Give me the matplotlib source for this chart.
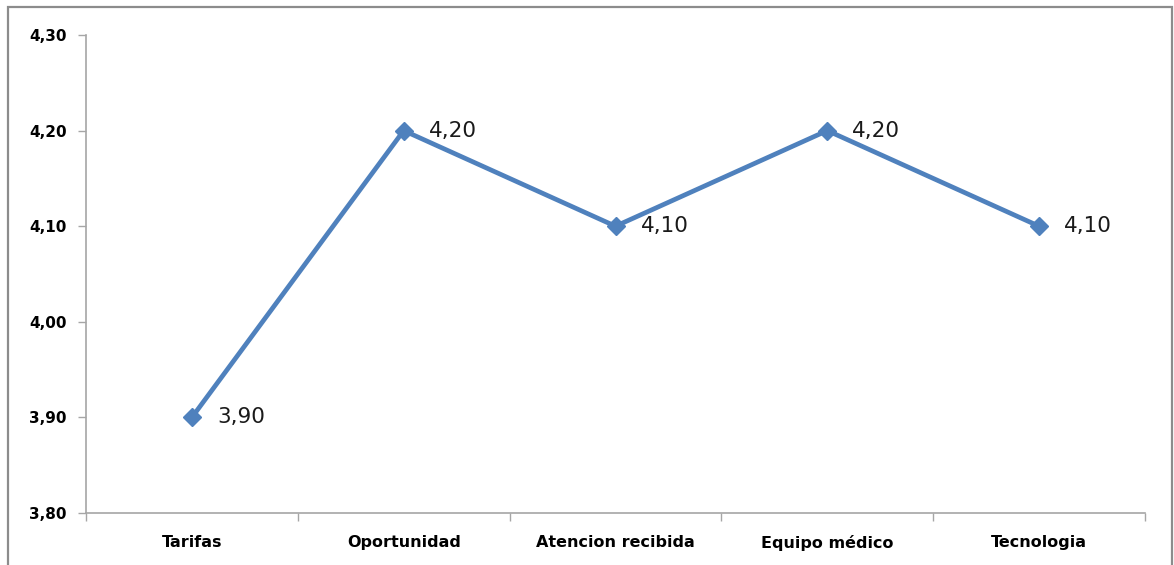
import matplotlib
matplotlib.use("Agg")
import matplotlib.pyplot as plt
from matplotlib.patches import Rectangle
from matplotlib.ticker import FixedLocator, FuncFormatter

categories = ["Tarifas", "Oportunidad", "Atencion recibida", "Equipo médico", "Tecnologia"]
values = [3.90, 4.20, 4.10, 4.20, 4.10]
y_ticks = [3.80, 3.90, 4.00, 4.10, 4.20, 4.30]

plt.rcParams['font.family'] = ['DejaVu Sans']
line_color = "#4F81BD"
axis_color = "#A6A6A6"

fig = plt.figure(figsize=(11.74, 5.65), dpi=100)
ax = fig.add_axes([86/1174, 1 - 513/565, (1145 - 86)/1174, (513 - 35)/565])

# Outer chart border
fig.patches.append(Rectangle((8/1174, -0.05), (1172 - 8)/1174, 1.05 - 7/565,
                             transform=fig.transFigure, fill=False,
                             edgecolor="#8C8C8C", linewidth=1.6))

x = list(range(len(categories)))
ax.plot(x, values, color=line_color, linewidth=3.4, marker="D",
        markersize=9.5, markerfacecolor=line_color, markeredgecolor=line_color,
        zorder=3)

for xi, v in zip(x, values):
    ax.annotate(f"{v:.2f}".replace(".", ","), (xi, v), xytext=(18, 0),
                textcoords="offset points", ha="left", va="center",
                fontsize=15.5, color="#1a1a1a")

ax.set_xlim(-0.5, len(categories) - 0.5)
ax.set_ylim(3.80, 4.30)

ax.set_yticks(y_ticks)
ax.yaxis.set_major_formatter(FuncFormatter(lambda v, p: f"{v:.2f}".replace(".", ",")))
ax.tick_params(axis="y", direction="out", length=6, width=1, color=axis_color,
               labelsize=11, pad=8)
for lbl in ax.get_yticklabels():
    lbl.set_fontweight("bold")

# Tick marks between categories, labels centered on categories
ax.xaxis.set_major_locator(FixedLocator([i - 0.5 for i in range(len(categories) + 1)]))
ax.xaxis.set_major_formatter(FuncFormatter(lambda v, p: ""))
ax.xaxis.set_minor_locator(FixedLocator(x))
ax.set_xticklabels(categories, minor=True)
ax.tick_params(axis="x", which="major", direction="out", length=6, width=1, color=axis_color)
ax.tick_params(axis="x", which="minor", length=0, labelsize=11.5, pad=16)
for lbl in ax.get_xticklabels(minor=True):
    lbl.set_fontweight("bold")

for side in ("top", "right"):
    ax.spines[side].set_visible(False)
for side in ("left", "bottom"):
    ax.spines[side].set_color(axis_color)
    ax.spines[side].set_linewidth(1.2)

fig.savefig("out.png", dpi=100)
